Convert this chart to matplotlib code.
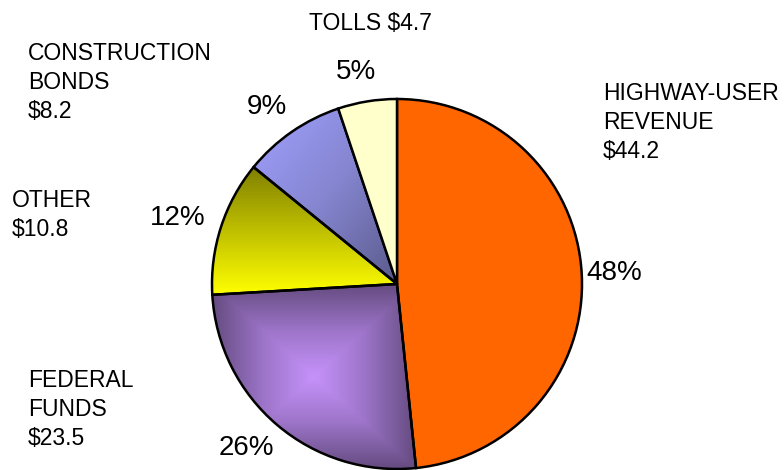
import numpy as np
import matplotlib
matplotlib.use('Agg')
import matplotlib.pyplot as plt
from matplotlib.colors import LinearSegmentedColormap

plt.rcParams['font.family'] = ['Liberation Sans', 'DejaVu Sans']

# revenue sources, billions of dollars
names = ['HIGHWAY-USER\nREVENUE\n$44.2', 'FEDERAL\nFUNDS\n$23.5', 'OTHER\n$10.8',
         'CONSTRUCTION\nBONDS\n$8.2', 'TOLLS $4.7']
values = [44.2, 23.5, 10.8, 8.2, 4.7]
colors = ['#FF6600', '#9B7BC4', '#D8D800', '#8080CC', '#FFFFCC']

# where each category label sits (pixels from top-left) and how it is aligned
label_pos = [(603, 82, 'left'), (28, 369, 'left'), (12, 189, 'left'),
             (28, 42, 'left'), (370, 12, 'center')]

W, H = 784, 470
fig = plt.figure(figsize=(W / 100, H / 100), dpi=100)
ax = fig.add_axes([0, 0, 1, 1])

wedges, texts, autotexts = ax.pie(values, startangle=90, counterclock=False, colors=colors,
                                  autopct='%1.0f%%', pctdistance=1.09,
                                  wedgeprops=dict(edgecolor='black', linewidth=1.8),
                                  textprops=dict(fontsize=20, color='black'))


def fill_gradient(wedge, img, cmap):
    # paint the wedge with an image clipped to its outline
    wedge.set_facecolor('none')
    ext = wedge.get_path().get_extents()
    im = ax.imshow(img, cmap=cmap, origin='lower', aspect='auto', interpolation='bilinear',
                   extent=[ext.x0, ext.x1, ext.y0, ext.y1], zorder=wedge.get_zorder() - 0.5)
    im.set_clip_path(wedge)


n = 300
u, v = np.meshgrid(np.linspace(-1, 1, n), np.linspace(-1, 1, n))

# federal funds: light in the middle, dark toward the box edges
fed_cmap = LinearSegmentedColormap.from_list('fed', ['#C692FA', '#9C74C8', '#654B80'])
fill_gradient(wedges[1], np.maximum(np.abs(u), np.abs(v)), fed_cmap)

# other: yellow at the bottom to olive at the top
oth_cmap = LinearSegmentedColormap.from_list('oth', ['#FFFF00', '#808000'])
fill_gradient(wedges[2], (v + 1) / 2, oth_cmap)

# construction bonds: light blue outside to slate near the centre
bond_cmap = LinearSegmentedColormap.from_list('bond', ['#A0A0FF', '#8585D0', '#5A5A8C'])
fill_gradient(wedges[3], (u - v + 2) / 4, bond_cmap)

R = 185.0
cx, cy = 397, H - 284
ax.set_xlim(-cx / R, (W - cx) / R)
ax.set_ylim(-cy / R, (H - cy) / R)
ax.set_aspect('equal')
ax.axis('off')

# push each percentage out so the side of its box facing the pie sits on the anchor
fig.canvas.draw()
renderer = fig.canvas.get_renderer()
for w, t in zip(wedges, autotexts):
    ang = np.deg2rad((w.theta1 + w.theta2) / 2)
    bb = t.get_window_extent(renderer)
    x, y = t.get_position()
    t.set_position((x + np.cos(ang) * bb.width * 0.4 / R - 6 / R,
                    y + np.sin(ang) * bb.height * 0.5 / R))

for name, (x, y, ha) in zip(names, label_pos):
    fig.text(x / W, 1 - y / H, name, fontsize=16.5, ha=ha, va='top', linespacing=1.33)

fig.savefig('out.png', dpi=100)
